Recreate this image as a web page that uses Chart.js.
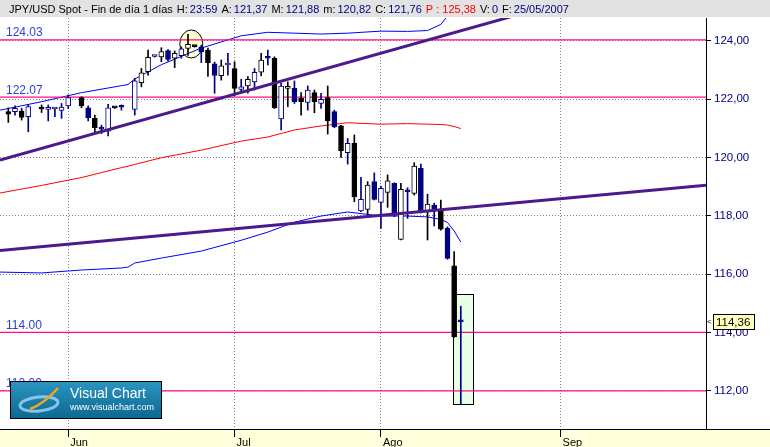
<!DOCTYPE html>
<html>
<head>
<meta charset="utf-8">
<script src="https://cdn.jsdelivr.net/npm/chart.js@4.4.0/dist/chart.umd.min.js"></script>
<style>
  html, body { margin: 0; padding: 0; background: #fff; }
  #wrap { width: 770px; height: 447px; position: relative; }
</style>
</head>
<body>
<div id="wrap"><canvas id="chart"></canvas></div>
<script>
// one slot per session, null = no bar in that slot
const opens = [121.57, 121.57, 121.59, 121.40, null, 121.66, 121.65, 121.66, 121.61, 121.77,
  null, 122.05, 121.70, 121.34, 121.02, 120.90, 121.70, 121.72, null, 121.65,
  122.56, 122.94, 123.46, 123.45, 123.66, 123.40, 123.49, 123.74, 123.80, 123.79,
  123.68, 123.21, 122.80, 123.17, 123.05, 122.33, 122.45, 122.59, 122.92, 123.45,
  123.40, 121.32, 122.37, 122.37, 122.03, 121.89, 122.22, 121.85, 122.05, 121.57,
  121.08, 120.16, 120.48, 118.17, 118.22, 119.17, 118.46, 118.80, 119.11, 117.19,
  118.88, 118.77, 119.63, 118.17, 118.37, 118.20, 117.57, 116.28, 114.40];
const highs = [121.70, 121.77, 121.68, 121.82, null, 121.80, 121.80, 121.70, 121.85, 122.14,
  null, 122.08, 121.77, 121.45, 121.11, 121.82, 121.72, 121.80, null, 122.71,
  123.05, 123.68, 123.50, 123.76, 123.70, 123.65, 123.79, 124.22, 123.82, 123.85,
  123.75, 123.27, 123.34, 123.57, 123.28, 122.68, 122.77, 123.05, 123.57, 123.68,
  123.45, 122.54, 122.59, 122.62, 122.22, 122.45, 122.31, 122.20, 122.45, 121.62,
  121.10, 120.65, 120.77, 119.32, 119.17, 119.47, 119.02, 119.40, 119.13, 119.11,
  118.96, 119.82, 119.77, 118.74, 118.43, 118.54, 117.62, 116.77, 114.90];
const lows = [121.20, 121.45, 121.28, 120.88, null, 121.54, 121.25, 121.40, 121.34, 121.68,
  null, 121.70, 121.25, 120.88, 120.82, 120.74, 121.68, 121.62, null, 121.45,
  122.42, 122.82, 123.44, 123.28, 123.30, 123.08, 123.40, 123.50, 123.78, 123.25,
  122.78, 122.20, 122.65, 122.82, 122.12, 122.20, 122.20, 122.31, 122.80, 123.17,
  121.68, 120.94, 121.74, 121.85, 121.45, 121.62, 121.53, 121.68, 120.80, 121.02,
  120.00, 119.77, 118.48, 118.14, 118.06, 118.54, 117.57, 118.29, 117.97, 117.17,
  117.91, 118.71, 118.10, 117.17, 117.65, 117.51, 116.51, 113.83, 111.55];
const closes = [121.48, 121.68, 121.37, 121.74, null, 121.66, 121.67, 121.68, 121.73, 122.05,
  null, 121.77, 121.36, 121.02, 120.97, 121.70, 121.70, 121.72, null, 122.63,
  122.90, 123.43, 123.48, 123.63, 123.36, 123.57, 123.72, 123.88, 123.80, 123.62,
  123.25, 122.81, 123.14, 123.19, 122.37, 122.42, 122.68, 122.92, 123.34, 123.40,
  121.70, 122.45, 122.42, 121.91, 121.91, 122.31, 121.91, 121.99, 121.25, 121.05,
  120.23, 120.48, 118.65, 118.56, 119.05, 118.56, 118.94, 119.20, 118.02, 118.91,
  118.82, 119.70, 118.14, 118.40, 118.23, 117.54, 116.54, 113.85, 114.36];

// bollinger bands, read at a handful of slots
const bandSlots = [-1.25, 5, 11, 17, 18, 19, 23, 29, 35, 39, 43, 47, 51, 56, 60, 63, 65, 66, 67, 68];
const upperBand = [121.62, 121.91, 122.22, 122.46, 122.50, 122.69, 123.18, 123.75, 124.17, 124.29,
  124.26, 124.23, 124.26, 124.33, 124.32, 124.35, 124.56, 124.85, 125.05, 125.26];
const middleBand = [118.78, 119.04, 119.31, 119.65, 119.70, 119.76, 119.99, 120.25, 120.56, 120.70,
  120.94, 121.08, 121.19, 121.14, 121.16, 121.14, 121.13, 121.11, 121.06, 120.99];
const lowerBand = [116.07, 116.04, 116.14, 116.21, 116.24, 116.38, 116.55, 116.79, 117.16, 117.44,
  117.78, 117.99, 118.13, 117.99, 117.99, 117.96, 117.87, 117.77, 117.48, 117.10];

// trend lines as [slot, price] end points
const trendUpper = [[-1.25, 119.91], [80, 125.11]];
const trendLower = [[-1.25, 116.81], [104.85, 119.05]];

const levels = [124.03, 122.07, 114.00, 112.00];
const priceTicks = [112, 114, 116, 118, 120, 122, 124];
const monthSlots = [9, 34, 56, 83];
const monthNames = ['Jun', 'Jul', 'Ago', 'Sep'];
const lastPrice = 114.36;
const rangeBox = { from: 66.85, to: 69.85, high: 115.31, low: 111.54 };
const markSlot = 27.5, markPrice = 123.89;

// header fields: label, value
const headerFields = [['H:', '23:59'], ['A:', '121,37'], ['M:', '121,88'], ['m:', '120,82'], ['C:', '121,76']];

// per-slot ink: k = black, n = navy
const candleInk = 'knkn.knnnn.knknnkn.' + 'nkknknknkk' + 'nknknknknk' + 'nknknknknk' + 'nknknknnkn' + 'knknknknkn';

const NAVY = '#000080';
const inkOf = i => candleInk[i] === 'n' ? NAVY : '#000000';

const wicks = [], bodies = [];
opens.forEach((o, i) => {
    if (o === null) return;
    wicks.push({ x: i, y: [lows[i], highs[i]] });
    bodies.push({ x: i, y: [o, closes[i]] });
});

const xMin = -1.25, xMax = 104.85;
const flat = v => [{ x: xMin, y: v }, { x: xMax, y: v }];
const pairs = (xs, ys) => xs.map((x, i) => ({ x: x, y: ys[i] }));

function lineSet(data, color, width, order) {
    return { type: 'line', data: data, borderColor: color, borderWidth: width,
        pointRadius: 0, tension: 0, fill: false, order: order, clip: 0 };
}

function drawLogo(ctx) {
    const x = 10.5, y = 381.5, w = 151, h = 37;
    const g = ctx.createLinearGradient(0, y, 0, y + h);
    g.addColorStop(0, '#2b95c2');
    g.addColorStop(1, '#0c6890');
    ctx.fillStyle = g;
    ctx.fillRect(x, y, w, h);
    ctx.strokeStyle = '#000';
    ctx.lineWidth = 1;
    ctx.strokeRect(x, y, w, h);
    // swoosh
    ctx.strokeStyle = 'rgba(150,210,240,0.85)';
    ctx.lineWidth = 3;
    ctx.beginPath();
    ctx.ellipse(39, 404, 19, 7, -0.1, 0, Math.PI * 2);
    ctx.stroke();
    ctx.strokeStyle = '#f5a623';
    ctx.lineWidth = 2.5;
    ctx.beginPath();
    ctx.moveTo(30, 409);
    ctx.quadraticCurveTo(44, 404, 58, 388);
    ctx.stroke();
    ctx.fillStyle = '#ffffff';
    ctx.font = '14px "Liberation Sans"';
    ctx.textBaseline = 'alphabetic';
    ctx.fillText('Visual Chart', 70, 398);
    ctx.font = '9px "Liberation Sans"';
    ctx.fillText('www.visualchart.com', 70, 410);
}

function drawHeader(ctx) {
    ctx.fillStyle = '#e2e2e2';
    ctx.fillRect(0, 0, 770, 17);
    ctx.font = '11px "Liberation Sans"';
    ctx.textBaseline = 'alphabetic';
    let hx = 9;
    const put = (t, c, gap) => { ctx.fillStyle = c; ctx.fillText(t, hx, 12.5); hx += ctx.measureText(t).width + gap; };
    put('JPY/USD Spot - Fin de día 1 días', '#000', 4);
    headerFields.forEach(([lab, val]) => { put(lab, '#000', 2); put(val, NAVY, 4); });
    put('P : 125,38', '#ff0000', 4);
    put('V:', '#000', 2);
    put('0', NAVY, 4);
    put('F:', '#000', 2);
    put('25/05/2007', NAVY, 0);
}

const chrome = {
    id: 'chrome',
    beforeDraw(chart) {
        const ctx = chart.ctx;
        ctx.save();
        ctx.fillStyle = '#ffffff';
        ctx.fillRect(0, 0, 770, 447);
        ctx.fillStyle = '#ffffdc';
        ctx.fillRect(0, 429, 770, 18);
        ctx.restore();
    },
    beforeDatasetsDraw(chart) {
        const { ctx, scales: { x, y } } = chart;
        ctx.save();
        const bx0 = Math.round(x.getPixelForValue(rangeBox.from)) + 0.5;
        const bx1 = Math.round(x.getPixelForValue(rangeBox.to)) + 0.5;
        const by0 = Math.round(y.getPixelForValue(rangeBox.high)) + 0.5;
        const by1 = Math.round(y.getPixelForValue(rangeBox.low)) + 0.5;
        ctx.fillStyle = '#e6ffe6';
        ctx.fillRect(bx0, by0, bx1 - bx0, by1 - by0);
        ctx.strokeStyle = '#000';
        ctx.lineWidth = 1;
        ctx.strokeRect(bx0, by0, bx1 - bx0, by1 - by0);
        // marker ellipse
        ctx.fillStyle = '#ffffd4';
        ctx.beginPath();
        ctx.ellipse(x.getPixelForValue(markSlot), y.getPixelForValue(markPrice), 11.5, 14, 0, 0, Math.PI * 2);
        ctx.fill();
        ctx.stroke();
        ctx.restore();
    },
    afterDraw(chart) {
        const { ctx, scales: { y } } = chart;
        ctx.save();
        drawHeader(ctx);
        // level captions
        ctx.fillStyle = '#2a3ce8';
        ctx.font = '12px "Liberation Sans"';
        levels.forEach(lv => ctx.fillText(lv.toFixed(2), 6, y.getPixelForValue(lv) - 3.5));
        // last price tag
        const py = Math.round(y.getPixelForValue(lastPrice));
        ctx.fillStyle = '#ffffc0';
        ctx.fillRect(713.5, py - 7.5, 41, 15);
        ctx.strokeStyle = '#000';
        ctx.lineWidth = 1;
        ctx.strokeRect(713.5, py - 7.5, 41, 15);
        ctx.fillStyle = '#000';
        ctx.font = '11.5px "Liberation Sans"';
        ctx.textBaseline = 'middle';
        ctx.fillText('114,36', 716, py + 0.5);
        ctx.font = '8px "Liberation Sans"';
        ctx.fillText('<', 707, py);
        // bottom rule across the whole width
        ctx.beginPath();
        ctx.moveTo(0, 429.5);
        ctx.lineTo(770, 429.5);
        ctx.stroke();
        drawLogo(ctx);
        ctx.restore();
    }
};

const candleStyle = {
    type: 'bar',
    grouped: false,
    borderSkipped: false
};

new Chart(document.getElementById('chart'), {
    type: 'bar',
    data: {
        datasets: [
            Object.assign({}, candleStyle, {
                data: bodies, order: 2, barThickness: 5, borderWidth: 1, minBarLength: 2,
                borderColor: c => inkOf(c.raw.x),
                backgroundColor: c => c.raw.y[1] > c.raw.y[0] ? '#ffffff' : inkOf(c.raw.x)
            }),
            Object.assign({}, candleStyle, {
                data: wicks, order: 3, barThickness: 1, borderWidth: 0,
                backgroundColor: c => inkOf(c.raw.x)
            }),
            lineSet(pairs(trendUpper.map(p => p[0]), trendUpper.map(p => p[1])), '#4b1a8c', 3, 1),
            lineSet(pairs(trendLower.map(p => p[0]), trendLower.map(p => p[1])), '#4b1a8c', 3, 1),
            ...levels.map(lv => lineSet(flat(lv), '#ff0a84', 1.3, 4)),
            lineSet(pairs(bandSlots, upperBand), '#0000ff', 1, 5),
            lineSet(pairs(bandSlots, middleBand), '#ff0000', 1, 5),
            lineSet(pairs(bandSlots, lowerBand), '#0000ff', 1, 5)
        ]
    },
    options: {
        responsive: true,
        maintainAspectRatio: false,
        animation: false,
        events: [],
        layout: { padding: { top: 18, left: 0, right: 0, bottom: 0 } },
        plugins: { legend: { display: false }, tooltip: { enabled: false } },
        scales: {
            x: {
                type: 'linear', min: xMin, max: xMax, offset: false,
                afterBuildTicks: s => { s.ticks = monthSlots.map(v => ({ value: v })); },
                afterFit: s => { s.height = 18; },
                ticks: {
                    callback: (v, i) => monthNames[i], align: 'start', labelOffset: 2,
                    padding: -1, color: '#000', autoSkip: false, maxRotation: 0,
                    font: { family: 'Liberation Sans', size: 11 }
                },
                grid: { color: '#808080', tickColor: '#000', tickLength: 8, offset: false, tickBorderDash: [] },
                border: { color: '#000', dash: [1, 2] }
            },
            y: {
                position: 'right', min: 110.69, max: 124.78,
                afterBuildTicks: s => { s.ticks = priceTicks.map(v => ({ value: v })); },
                afterFit: s => { s.width = 64; },
                ticks: {
                    callback: v => v.toFixed(2).replace('.', ','), color: NAVY, padding: 3,
                    font: { family: 'Liberation Sans', size: 11.5 }
                },
                grid: { color: '#808080', tickColor: '#000', tickLength: 5, tickBorderDash: [] },
                border: { color: '#000', dash: [1, 2] }
            }
        }
    },
    plugins: [chrome]
});
</script>
</body>
</html>
